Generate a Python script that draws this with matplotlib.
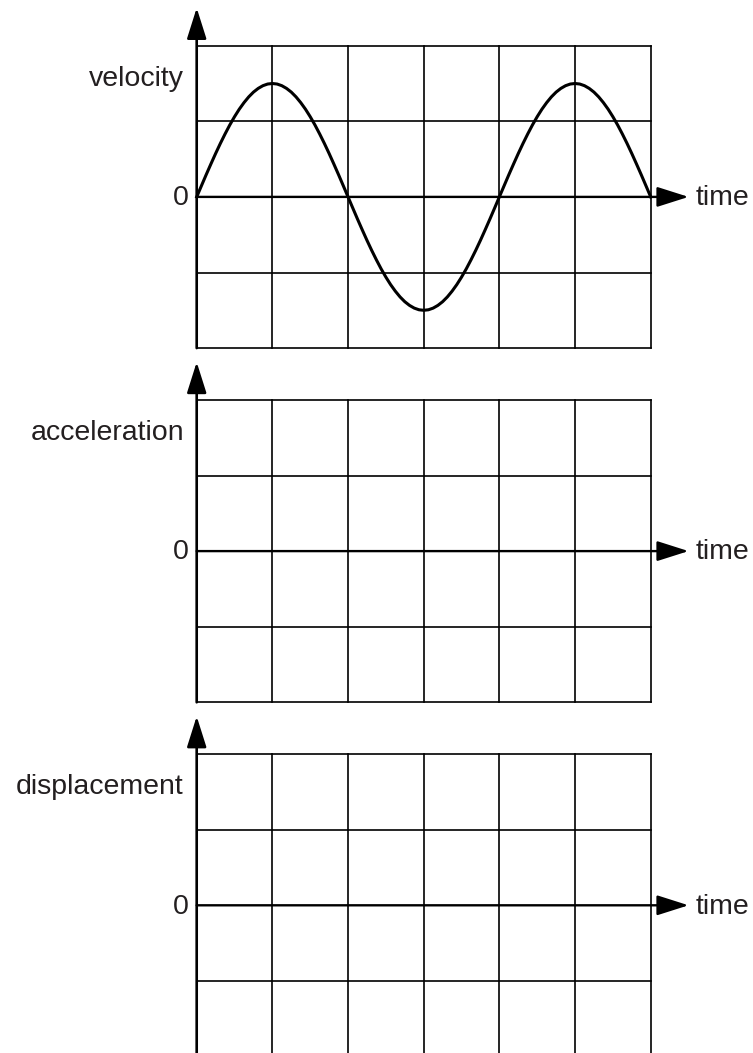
import numpy as np
import matplotlib.pyplot as plt

# panel labels (y axis) and the shared x label
panel_labels = ['velocity', 'acceleration', 'displacement']
x_label = 'time'
zero_label = '0'

# velocity, every 1/16 of a grid square
t_vel = np.arange(0, 6.001, 0.0625)
velocity = [0, 0.147, 0.293, 0.435, 0.574, 0.707, 0.833, 0.952, 1.061,
            1.160, 1.247, 1.323, 1.386, 1.435, 1.471, 1.493, 1.5,
            1.493, 1.471, 1.435, 1.386, 1.323, 1.247, 1.160, 1.061,
            0.952, 0.833, 0.707, 0.574, 0.435, 0.293, 0.147, 0,
            -0.147, -0.293, -0.435, -0.574, -0.707, -0.833, -0.952, -1.061,
            -1.160, -1.247, -1.323, -1.386, -1.435, -1.471, -1.493, -1.5,
            -1.493, -1.471, -1.435, -1.386, -1.323, -1.247, -1.160, -1.061,
            -0.952, -0.833, -0.707, -0.574, -0.435, -0.293, -0.147, 0,
            0.147, 0.293, 0.435, 0.574, 0.707, 0.833, 0.952, 1.061,
            1.160, 1.247, 1.323, 1.386, 1.435, 1.471, 1.493, 1.5,
            1.493, 1.471, 1.435, 1.386, 1.323, 1.247, 1.160, 1.061,
            0.952, 0.833, 0.707, 0.574, 0.435, 0.293, 0.147, 0]

n_cols, n_rows = 6, 4
W, H = 753, 1053
left, width = 196.7, 454.0
height = 302.4
tops = [45.7, 399.9, 754.1]

plt.rcParams['font.family'] = ['Liberation Sans', 'DejaVu Sans']
text_col = '#231f20'

fig = plt.figure(figsize=(W / 100, H / 100), dpi=100)

for k, top in enumerate(tops):
    ax = fig.add_axes([left / W, (H - top - height) / H, width / W, height / H])
    ax.set_xlim(0, n_cols)
    ax.set_ylim(-n_rows / 2, n_rows / 2)
    ax.axis('off')

    # grid
    for x in range(1, n_cols + 1):
        ax.plot([x, x], [-2, 2], color='black', lw=1.2, clip_on=False)
    for y in [-2, -1, 1, 2]:
        ax.plot([0, n_cols], [y, y], color='black', lw=1.2, clip_on=False)

    # axes with arrows
    ax.annotate('', xy=(0, 2.5), xytext=(0, -2), annotation_clip=False,
                arrowprops=dict(arrowstyle='-|>,head_length=1.9,head_width=0.6',
                                mutation_scale=10, lw=1.9, color='black',
                                shrinkA=0, shrinkB=0))
    ax.annotate('', xy=(6.5, 0), xytext=(0, 0), annotation_clip=False,
                arrowprops=dict(arrowstyle='-|>,head_length=1.95,head_width=0.62',
                                mutation_scale=10, lw=1.7, color='black',
                                shrinkA=0, shrinkB=0))

    ax.text(-0.168, 1.47, panel_labels[k], ha='right', va='baseline',
            fontsize=20.5, color=text_col)
    ax.text(-0.10, -0.111, zero_label, ha='right', va='baseline',
            fontsize=20.5, color=text_col)
    ax.text(6.6, -0.111, x_label, ha='left', va='baseline',
            fontsize=20.5, color=text_col)

    if k == 0:
        ax.plot(t_vel, velocity, color='black', lw=2.2, clip_on=False,
                solid_joinstyle='round')

fig.savefig('out.png', dpi=100)
